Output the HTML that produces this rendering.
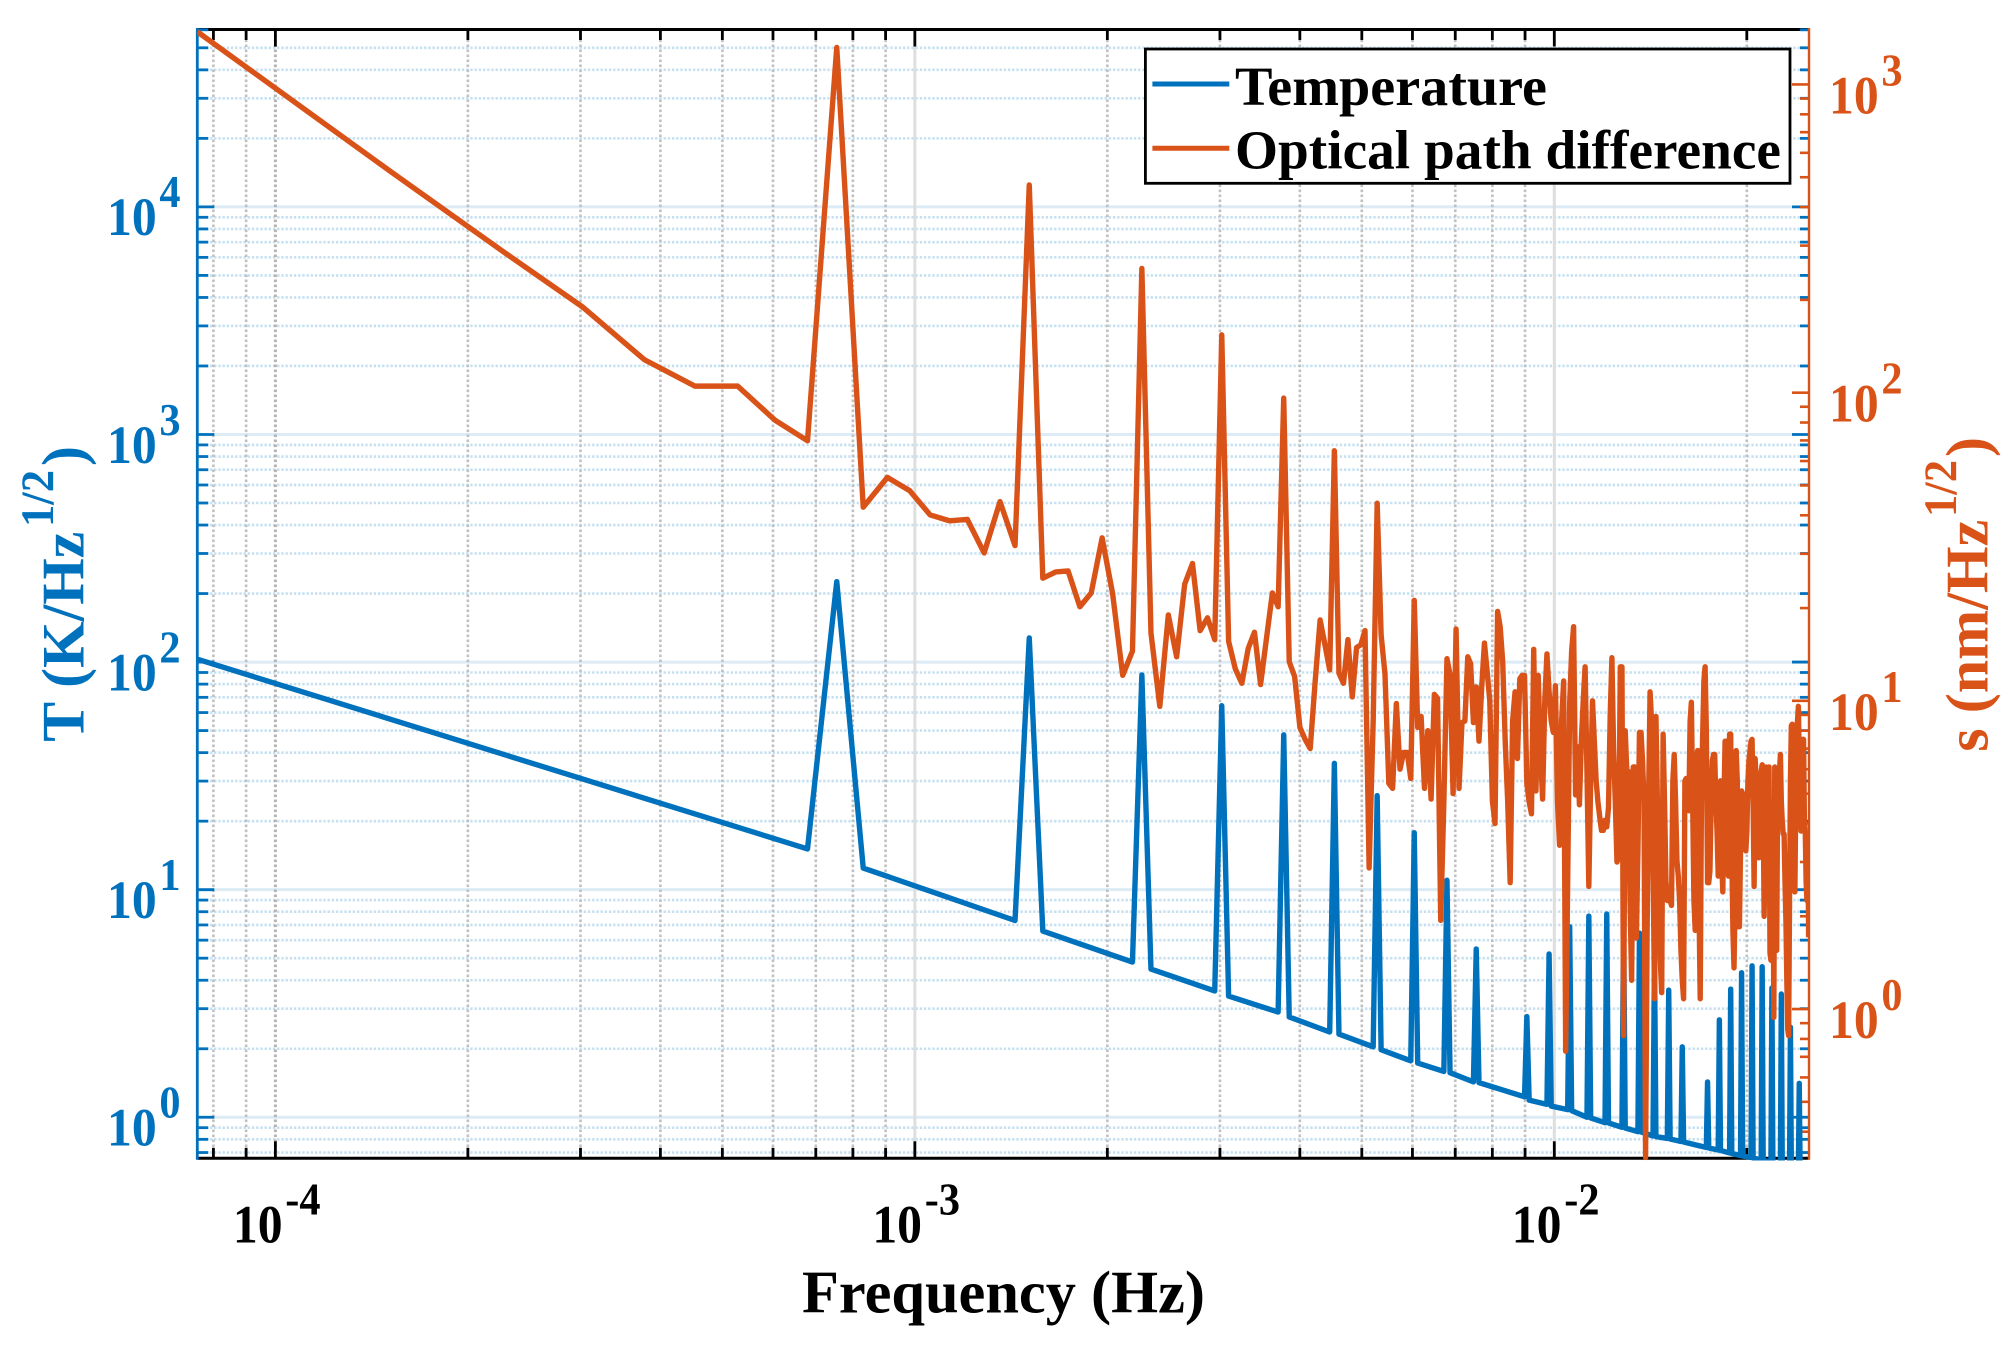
<!DOCTYPE html>
<html lang="en">
<head>
<meta charset="utf-8">
<title>Temperature and optical path difference spectra</title>
<style>
html,body{margin:0;padding:0;background:#fff;}
svg{display:block;}
text{font-family:"Liberation Serif",serif;font-weight:bold;}
</style>
</head>
<body>
<svg id="chart" xmlns="http://www.w3.org/2000/svg" width="2013" height="1349" viewBox="0 0 2013 1349">
  <defs>
    <clipPath id="plot-clip"><rect x="197.3" y="29.5" width="1611.7" height="1131"/></clipPath>
  </defs>
  <rect x="0" y="0" width="2013" height="1349" fill="#ffffff"/>
  <g id="grid"></g>
  <g id="axes"></g>
  <g id="series" clip-path="url(#plot-clip)"></g>

  <g>
    <text x="802" y="1312.7" font-size="60" fill="#000000" textLength="403" lengthAdjust="spacingAndGlyphs">Frequency (Hz)</text>
  </g>
  <g fill="#0072BD">
    <text transform="translate(83.3 741.7) rotate(-90)" font-size="60" textLength="210" lengthAdjust="spacingAndGlyphs">T (K/Hz</text>
    <text transform="translate(53 527) rotate(-90)" font-size="47" textLength="57" lengthAdjust="spacingAndGlyphs">1/2</text>
    <text transform="translate(83.3 466) rotate(-90)" font-size="60">)</text>
  </g>
  <g fill="#D95319">
    <text transform="translate(1987.3 751.7) rotate(-90)" font-size="60" textLength="232" lengthAdjust="spacingAndGlyphs">s (nm/Hz</text>
    <text transform="translate(1956 517) rotate(-90)" font-size="47" textLength="57" lengthAdjust="spacingAndGlyphs">1/2</text>
    <text transform="translate(1987.3 457) rotate(-90)" font-size="60">)</text>
  </g>

  <g>
    <rect x="1145.4" y="49" width="644.6" height="134.3" fill="#ffffff" stroke="#000000" stroke-width="2.8"/>
    <g>
      <line x1="1152.4" y1="84" x2="1229.3" y2="84" stroke="#0072BD" stroke-width="5"/>
      <text x="1235" y="105" font-size="55.5" fill="#000000" textLength="312" lengthAdjust="spacingAndGlyphs">Temperature</text>
    </g>
    <g>
      <line x1="1152.4" y1="148.3" x2="1229.3" y2="148.3" stroke="#D95319" stroke-width="5"/>
      <text x="1235" y="168.3" font-size="55.5" fill="#000000" textLength="546" lengthAdjust="spacingAndGlyphs">Optical path difference</text>
    </g>
  </g>
</svg>

<script>
// Spectral bin width of both series (Hz) and axis limits
const binWidthHz = 7.549e-5;
const xDomain = [7.549e-5, 0.02502];
const leftDomain = [0.6603, 60170];
const rightDomain = [0.3279, 1507.7];

// Tick definitions
const xMajorExponents = [-4, -3, -2];
const xMinorExponents = [-5, -4, -3, -2];
const leftMajorExponents = [0, 1, 2, 3, 4];
const leftMinorExponents = [-1, 0, 1, 2, 3, 4];
const rightMajorExponents = [0, 1, 2, 3];
const rightMinorExponents = [-1, 0, 1, 2, 3];
const decadeMantissas = [2, 3, 4, 5, 6, 7, 8, 9];

// Temperature spectrum, T (K/Hz^1/2): bin numbers
const temperatureBins = [
  1,9,10,11,19,20,21,29,30,31,39,40,41,49,50,51,59,60,61,69,70,71,79,80,81,89,90,91,99,100,101,
  119,120,121,129,130,131,139,140,141,149,150,151,159,160,161,169,170,171,179,180,181,189,190,191,
  199,200,201,209,210,211,229,230,231,239,240,241,249,250,251,259,260,261,269,270,271,279,280,281,
  289,290,291,299,300,301,309,310,311,319,320,321,331
];
// Temperature spectrum, T (K/Hz^1/2): values
const temperatureValues = [
  103,15.1,225.6,12.45,7.32,127.6,6.58,4.81,87.8,4.48,3.59,64.3,3.41,2.90,47.9,2.76,2.37,35.9,2.32,2.04,25.9,1.98,1.77,17.8,1.73,1.59,11.0,1.57,1.43,5.49,1.42,
  1.23,2.77,1.19,1.14,5.22,1.12,1.08,6.88,1.07,1.00,7.66,0.993,0.947,7.82,0.944,0.904,7.36,0.897,0.864,6.45,0.862,0.828,5.06,0.823,
  0.807,3.62,0.803,0.783,2.04,0.779,0.737,1.43,0.733,0.718,2.68,0.715,0.697,3.66,0.693,0.679,4.32,0.676,0.666,4.63,0.663,0.649,4.59,0.646,
  0.636,3.70,0.633,0.617,3.48,0.614,0.599,2.49,0.596,0.587,1.41,0.584,0.575
];

// Optical path difference spectrum, s (nm/Hz^1/2): bin numbers
const opdBins = [
  1,2,3,4,5,6,7,8,9,10,11,12,13,14,15,16,17,18,19,20,21,22,23,24,25,26,27,28,29,30,
  31,32,33,34,35,36,37,38,39,40,41,42,43,44,45,46,47,48,49,50,51,52,53,54,55,56,57,58,59,60,
  61,62,63,64,65,66,67,68,69,70,71,72,73,74,75,76,77,78,79,80,81,82,83,84,85,86,87,88,89,90,
  91,92,93,94,95,96,97,98,99,100,101,102,103,104,105,106,107,108,109,110,111,112,113,114,115,116,117,118,119,120,
  121,122,123,124,125,126,127,128,129,130,131,132,133,134,135,136,137,138,139,140,141,142,143,144,145,146,147,148,149,150,
  151,152,153,154,155,156,157,158,159,160,161,162,163,164,165,166,167,168,169,170,171,172,173,174,175,176,177,178,179,180,
  181,182,183,184,185,186,187,188,189,190,191,192,193,194,195,196,197,198,199,200,201,202,203,204,205,206,207,208,209,210,
  211,212,213,214,215,216,217,218,219,220,221,222,223,224,225,226,227,228,229,230,231,232,233,234,235,236,237,238,239,240,
  241,242,243,244,245,246,247,248,249,250,251,252,253,254,255,256,257,258,259,260,261,262,263,264,265,266,267,268,269,270,
  271,272,273,274,275,276,277,278,279,280,281,282,283,284,285,286,287,288,289,290,291,292,293,294,295,296,297,298,299,300,
  301,302,303,304,305,306,307,308,309,310,311,312,313,314,315,316,317,318,319,320,321,322,323,324,325,326,327,328,329,330,331
];
// Optical path difference spectrum, s (nm/Hz^1/2): values
const opdValues = [
  1483,524,288,190,128,105,105,81.5,69.8,1318,
  42.5,53.1,48.1,40.1,38.4,38.8,30.2,44.3,31.9,472,
  25.0,26.2,26.4,20.2,22.4,33.8,22.3,12.1,14.5,253,
  16.6,9.6,19.0,13.9,23.9,27.9,16.9,18.6,15.8,154,
  15.6,12.7,11.4,14.8,16.7,11.3,16.0,22.4,20.2,96,
  13.4,12.0,8.2,7.5,7.0,11.6,18.3,15.2,12.6,64.8,
  12.3,11.4,15.8,10.3,14.9,15.2,16.9,2.87,8.6,43.8,
  16.4,12.2,5.4,5.2,9.8,6.0,6.8,6.8,5.6,21.2,
  8.2,8.9,5.2,8.0,4.8,10.5,10.2,1.94,4.7,13.7,
  12.2,5.0,17.1,5.2,8.5,8.6,13.9,13.2,8.5,11.1,
  7.4,11.1,15.4,12.5,10,4.73,4.0,19.5,17.4,13.4,
  7.4,4.7,2.57,8.6,10.7,6.5,11.8,12.1,12.1,5.4,
  4.7,4.3,14.7,5.1,12.1,6.9,4.8,10,14.2,10.7,
  8.6,7.9,11.2,4.7,3.4,8.6,11.6,0.73,2.6,9.8,
  14.5,17.4,4.95,7.1,4.6,7.4,10,12.9,5.9,2.5,
  5.5,10,7.4,5.5,4.7,4.2,3.8,3.8,4.1,3.9,
  4.5,9,13.8,6.9,4.7,3.0,3.1,12.9,12.9,0.82,
  8.0,5.9,5.9,2.25,1.24,6.1,6.1,1.7,3.26,7.9,
  7.9,6.4,4.7,0.33,1.75,4.7,10.7,8.6,3.26,1.08,
  8.9,4.7,2.25,1.44,1.13,7.8,4.7,2.61,2.25,2.42,
  2.25,2.17,5.5,6.7,4.7,3.03,2.7,2.25,1.55,1.24,
  1.08,5.5,5.6,4.7,4.4,8.6,9.9,4.7,2.25,1.8,
  6.4,6.9,2.25,1.08,4.7,7.7,11.6,12.9,8,2.57,
  2.57,2.81,4.7,6.4,6.7,6.7,4.7,3.78,2.7,4.7,
  5.5,3.03,2.4,4.7,7.4,7.4,4.4,2.7,7.8,7.8,
  3.26,1.8,1.36,2.25,6.9,5.5,1.85,1.85,3.26,5.1,
  5.0,4.7,3.78,3.26,3.78,5.5,6.4,6.9,7.4,7.5,
  4.7,2.5,6.5,5.5,3.78,3.1,3.1,4.7,5.9,6.2,
  4.7,2.0,3.5,6.1,3.03,5.5,6.1,1.52,1.44,2.6,
  4.7,0.94,6.1,3.26,1.55,4.7,5.9,5.9,6.7,4.7,
  4.07,3.7,3.7,2.6,1.94,1.24,0.86,0.82,2.25,5.5,
  8.3,8.4,5.5,3.5,2.4,4.7,8,8.6,9.6,6.4,
  4.7,3.78,5.9,7.5,7.5,4.07,3.78,2.6,2.25,3.7,1.71
];

// Plot frame
const PLOT_LEFT = 197.3, PLOT_RIGHT = 1809, PLOT_TOP = 29.5, PLOT_BOTTOM = 1158.3;
const BLUE = '#0072BD', ORANGE = '#D95319';
const NS = 'http://www.w3.org/2000/svg';

// Axis functions (logarithmic)
function logScale(domain, r0, r1) {
  const a = Math.log10(domain[0]), b = Math.log10(domain[1]);
  return function (v) { return r0 + (Math.log10(v) - a) / (b - a) * (r1 - r0); };
}
const xScale = logScale(xDomain, PLOT_LEFT, PLOT_RIGHT);
const yLeft = logScale(leftDomain, PLOT_BOTTOM, PLOT_TOP);
const yRight = logScale(rightDomain, PLOT_BOTTOM, PLOT_TOP);

function inDomain(v, d) { return v >= d[0] * 0.999 && v <= d[1] * 1.001; }
function minorValues(exponents, domain) {
  const out = [];
  exponents.forEach(function (e) {
    decadeMantissas.forEach(function (m) {
      const v = m * Math.pow(10, e);
      if (inDomain(v, domain)) out.push(v);
    });
  });
  return out;
}
function drawLine(parent, x1, y1, x2, y2, stroke, width, dash) {
  const el = document.createElementNS(NS, 'line');
  el.setAttribute('x1', x1);
  el.setAttribute('y1', y1);
  el.setAttribute('x2', x2);
  el.setAttribute('y2', y2);
  el.setAttribute('stroke', stroke);
  el.setAttribute('stroke-width', width);
  if (dash) el.setAttribute('stroke-dasharray', dash);
  parent.appendChild(el);
  return el;
}
function drawPowerLabel(parent, x, baseY, exponent, fill) {
  const el = document.createElementNS(NS, 'text');
  el.setAttribute('transform', 'translate(' + x + ' ' + baseY + ') scale(0.92 1)');
  el.setAttribute('fill', fill);
  el.setAttribute('font-size', '54');
  const base = document.createElementNS(NS, 'tspan');
  base.textContent = '10';
  const sup = document.createElementNS(NS, 'tspan');
  sup.setAttribute('dx', '3');
  sup.setAttribute('dy', '-28');
  sup.setAttribute('font-size', '46');
  sup.textContent = String(exponent);
  el.appendChild(base);
  el.appendChild(sup);
  parent.appendChild(el);
  return el;
}

const gridGroup = document.getElementById('grid');
const axesGroup = document.getElementById('axes');
const seriesGroup = document.getElementById('series');

// Horizontal grid (left axis)
minorValues(leftMinorExponents, leftDomain).forEach(function (v) {
  const el = drawLine(gridGroup, PLOT_LEFT, yLeft(v), PLOT_RIGHT, yLeft(v), '#c6e0f1', 2.6, '2.4 1.8');
  
  
});
leftMajorExponents.forEach(function (e) {
  const v = Math.pow(10, e);
  const el = drawLine(gridGroup, PLOT_LEFT, yLeft(v), PLOT_RIGHT, yLeft(v), '#dcebf5', 3);
  
  
});

// Vertical grid
minorValues(xMinorExponents, xDomain).forEach(function (v) {
  const el = drawLine(gridGroup, xScale(v), PLOT_TOP, xScale(v), PLOT_BOTTOM, '#c0c0c0', 2.6, '2.6 2.4');
  
  
});
xMajorExponents.forEach(function (e) {
  const v = Math.pow(10, e);
  const first = e === xMajorExponents[0];
  const el = drawLine(gridGroup, xScale(v), PLOT_TOP, xScale(v), PLOT_BOTTOM, first ? '#b4b4b4' : '#dedede', 3, first ? '2.6 2.4' : null);
  
  
});

// Frame
const topAxis = drawLine(axesGroup, PLOT_LEFT, PLOT_TOP, PLOT_RIGHT, PLOT_TOP, '#000000', 3);


const bottomAxis = drawLine(axesGroup, PLOT_LEFT, PLOT_BOTTOM, PLOT_RIGHT, PLOT_BOTTOM, '#000000', 3);



// X ticks top and bottom
minorValues(xMinorExponents, xDomain).forEach(function (v) {
  const t1 = drawLine(axesGroup, xScale(v), PLOT_TOP, xScale(v), PLOT_TOP + 10.5, '#000000', 2.8);
  
  
  const t2 = drawLine(axesGroup, xScale(v), PLOT_BOTTOM, xScale(v), PLOT_BOTTOM - 10.5, '#000000', 2.8);
  
  
});
xMajorExponents.forEach(function (e) {
  const v = Math.pow(10, e);
  const t1 = drawLine(axesGroup, xScale(v), PLOT_TOP, xScale(v), PLOT_TOP + 17, '#000000', 2.8);
  
  
  const t2 = drawLine(axesGroup, xScale(v), PLOT_BOTTOM, xScale(v), PLOT_BOTTOM - 17, '#000000', 2.8);
  
  
  const label = drawPowerLabel(axesGroup, xScale(v) - 42.5, 1242.7, e, '#000000');
  
  
});

// Left axis ticks, mirrored on the right side
minorValues(leftMinorExponents, leftDomain).forEach(function (v) {
  const t1 = drawLine(axesGroup, PLOT_LEFT, yLeft(v), PLOT_LEFT + 11, yLeft(v), BLUE, 2.8);
  
  
  const t2 = drawLine(axesGroup, PLOT_RIGHT, yLeft(v), PLOT_RIGHT - 9, yLeft(v), BLUE, 2.8);
  
  
});
leftMajorExponents.forEach(function (e) {
  const v = Math.pow(10, e);
  const t1 = drawLine(axesGroup, PLOT_LEFT, yLeft(v), PLOT_LEFT + 17, yLeft(v), BLUE, 2.8);
  
  
  const t2 = drawLine(axesGroup, PLOT_RIGHT, yLeft(v), PLOT_RIGHT - 17, yLeft(v), BLUE, 2.8);
  
  
  const label = drawPowerLabel(axesGroup, 107, yLeft(v) + 28.3, e, BLUE);
  
  
});

// Right axis ticks
minorValues(rightMinorExponents, rightDomain).forEach(function (v) {
  const t = drawLine(axesGroup, PLOT_RIGHT, yRight(v), PLOT_RIGHT - 9, yRight(v), ORANGE, 2.6);
  
  
});
rightMajorExponents.forEach(function (e) {
  const v = Math.pow(10, e);
  const t = drawLine(axesGroup, PLOT_RIGHT, yRight(v), PLOT_RIGHT - 17, yRight(v), ORANGE, 2.6);
  
  
  const label = drawPowerLabel(axesGroup, 1829, yRight(v) + 29, e, ORANGE);
  
  
});

// Vertical rulers
const leftRuler = drawLine(axesGroup, PLOT_LEFT, PLOT_TOP - 1.5, PLOT_LEFT, PLOT_BOTTOM + 1.5, BLUE, 2.8);


const rightRuler = drawLine(axesGroup, PLOT_RIGHT, PLOT_TOP - 1.5, PLOT_RIGHT, PLOT_BOTTOM + 1.5, ORANGE, 2.4);



// Series
function seriesPath(bins, values, yScale) {
  return bins.map(function (b, i) {
    return (i ? 'L' : 'M') + xScale(b * binWidthHz).toFixed(2) + ' ' + yScale(values[i]).toFixed(2);
  }).join(' ');
}
const temperatureLine = document.createElementNS(NS, 'path');
temperatureLine.setAttribute('d', seriesPath(temperatureBins, temperatureValues, yLeft));
temperatureLine.setAttribute('fill', 'none');
temperatureLine.setAttribute('stroke', BLUE);
temperatureLine.setAttribute('stroke-width', '5.4');
temperatureLine.setAttribute('stroke-linejoin', 'round');


seriesGroup.appendChild(temperatureLine);

const opdLine = document.createElementNS(NS, 'path');
opdLine.setAttribute('d', seriesPath(opdBins, opdValues, yRight));
opdLine.setAttribute('fill', 'none');
opdLine.setAttribute('stroke', ORANGE);
opdLine.setAttribute('stroke-width', '5.4');
opdLine.setAttribute('stroke-linejoin', 'round');


seriesGroup.appendChild(opdLine);
</script>
</body>
</html>
